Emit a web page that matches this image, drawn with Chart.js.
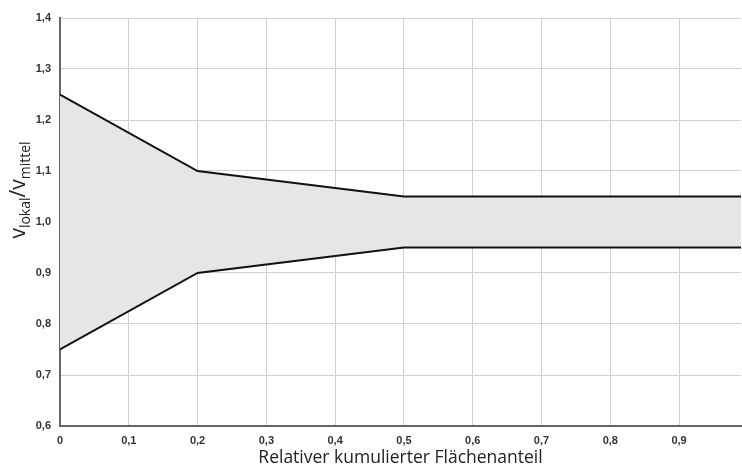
<!DOCTYPE html>
<html>
<head>
<meta charset="utf-8">
<script src="https://cdn.jsdelivr.net/npm/chart.js@4.4.1/dist/chart.umd.min.js"></script>
<style>
  html, body { margin: 0; padding: 0; background: #fff; }
  #wrap { width: 742px; height: 468px; }
</style>
</head>
<body>
<div id="wrap"><canvas id="chart"></canvas></div>
<script>
// data
var xPoints = [0, 0.2, 0.5, 0.99];
var upper = [1.25, 1.1, 1.05, 1.05];
var lower = [0.75, 0.9, 0.95, 0.95];
var xTicks = [0, 0.1, 0.2, 0.3, 0.4, 0.5, 0.6, 0.7, 0.8, 0.9];
var yTicks = [0.6, 0.7, 0.8, 0.9, 1.0, 1.1, 1.2, 1.3, 1.4];

function toPts(ys) {
    return xPoints.map(function(x, i) { return { x: x, y: ys[i] }; });
}

function comma(v, digits) {
    return v.toFixed(digits).replace('.', ',');
}

// y title with subscripts, drawn by hand
var yTitlePlugin = {
    id: 'yTitle',
    afterDraw: function(chart) {
        var ctx = chart.ctx;
        ctx.save();
        ctx.translate(25, 190);
        ctx.rotate(-Math.PI / 2);
        ctx.fillStyle = '#222';
        ctx.textBaseline = 'alphabetic';
        var big = '21px "Open Sans"', small = '14px "Open Sans"';
        var parts = [['v', big, 0], ['lokal', small, 5], ['/v', big, 0], ['mittel', small, 5]];
        var total = 0;
        parts.forEach(function(p) { ctx.font = p[1]; total += ctx.measureText(p[0]).width; });
        var x = -total / 2;
        parts.forEach(function(p) {
            ctx.font = p[1];
            ctx.fillText(p[0], x, p[2]);
            x += ctx.measureText(p[0]).width;
        });
        ctx.restore();
    }
};

var config = {
    type: 'line',
    data: {
        datasets: [{
            data: toPts(upper),
            borderColor: '#111',
            borderWidth: 2,
            backgroundColor: '#e6e6e6',
            fill: '+1',
            pointRadius: 0,
            tension: 0
        }, {
            data: toPts(lower),
            borderColor: '#111',
            borderWidth: 2,
            fill: false,
            pointRadius: 0,
            tension: 0
        }]
    },
    options: {
        responsive: true,
        maintainAspectRatio: false,
        animation: false,
        layout: { padding: { top: 18, right: 1, left: 0, bottom: 0 } },
        plugins: {
            legend: { display: false },
            tooltip: { enabled: false },
            filler: { drawTime: 'beforeDatasetsDraw' }
        },
        scales: {
            x: {
                type: 'linear',
                min: 0,
                max: 0.99,
                afterBuildTicks: function(scale) {
                    scale.ticks = xTicks.map(function(v) { return { value: v }; });
                },
                afterFit: function(scale) { scale.height = 42; },
                grid: { color: '#d0d0d0', lineWidth: 1, drawTicks: false },
                border: { color: '#666', width: 2 },
                ticks: {
                    padding: 8,
                    color: '#333',
                    font: { family: '"Liberation Sans"', size: 11, weight: 'bold' },
                    maxRotation: 0,
                    callback: function(v) { return v === 0 ? '0' : comma(v, 1); }
                },
                title: {
                    display: true,
                    text: 'Relativer kumulierter Flächenanteil',
                    color: '#222',
                    font: { family: '"Open Sans"', size: 17.5 },
                    padding: { top: 0, bottom: -1 }
                }
            },
            y: {
                min: 0.6,
                max: 1.4,
                afterBuildTicks: function(scale) {
                    scale.ticks = yTicks.map(function(v) { return { value: v }; });
                },
                afterFit: function(scale) { scale.width = 60; },
                grid: { color: '#d0d0d0', lineWidth: 1, drawTicks: false },
                border: { color: '#666', width: 2 },
                ticks: {
                    padding: 9,
                    color: '#333',
                    font: { family: '"Liberation Sans"', size: 11, weight: 'bold' },
                    callback: function(v) { return comma(v, 1); }
                }
            }
        }
    },
    plugins: [yTitlePlugin]
};

var ctx = document.getElementById('chart').getContext('2d');
window.areaChart = new Chart(ctx, config);
</script>
</body>
</html>
